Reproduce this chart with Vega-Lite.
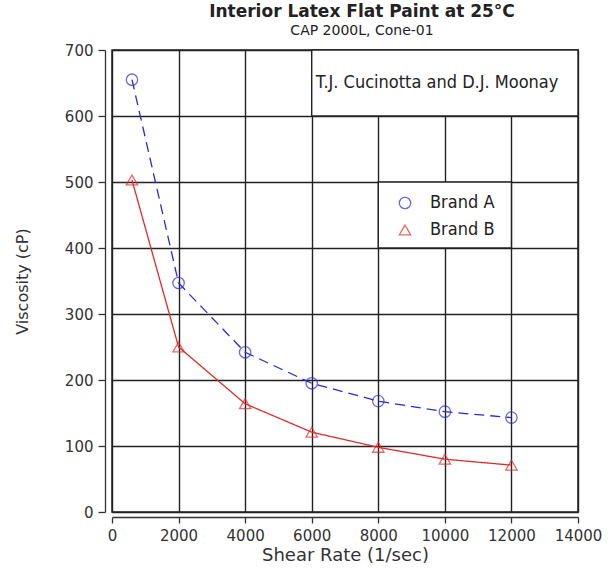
{
  "$schema": "https://vega.github.io/schema/vega-lite/v6.json",
  "autosize": {"type": "none"},
  "width": 466,
  "height": 462,
  "padding": {"left": 112, "top": 50, "right": 37, "bottom": 59},
  "background": "white",
  "title": {
    "text": "Interior Latex Flat Paint at 25°C",
    "subtitle": "CAP 2000L, Cone-01",
    "anchor": "middle",
    "dx": 17,
    "offset": 4,
    "font": "DejaVu Sans",
    "fontSize": 17,
    "fontWeight": "bold",
    "color": "#222",
    "subtitleFont": "DejaVu Sans",
    "subtitleFontSize": 14,
    "subtitleColor": "#222",
    "subtitlePadding": 3
  },
  "config": {
    "view": {"stroke": "#222", "strokeWidth": 1.5},
    "axis": {
      "domainColor": "#333",
      "domainWidth": 1.3,
      "tickColor": "#333",
      "tickWidth": 1.3,
      "gridColor": "#222",
      "gridWidth": 1.4,
      "labelFont": "DejaVu Sans",
      "labelFontSize": 15,
      "labelColor": "#333",
      "titleFont": "DejaVu Sans",
      "titleFontWeight": "normal",
      "titleColor": "#333"
    },
    "legend": {"zindex": 5}
  },
  "datasets": {
    "series": [
      {"brand": "Brand A", "shear": 600, "viscosity": 655},
      {"brand": "Brand A", "shear": 2000, "viscosity": 347},
      {"brand": "Brand A", "shear": 4000, "viscosity": 242},
      {"brand": "Brand A", "shear": 6000, "viscosity": 195},
      {"brand": "Brand A", "shear": 8000, "viscosity": 168},
      {"brand": "Brand A", "shear": 10000, "viscosity": 152},
      {"brand": "Brand A", "shear": 12000, "viscosity": 143},
      {"brand": "Brand B", "shear": 600, "viscosity": 503},
      {"brand": "Brand B", "shear": 2000, "viscosity": 250},
      {"brand": "Brand B", "shear": 4000, "viscosity": 164},
      {"brand": "Brand B", "shear": 6000, "viscosity": 121},
      {"brand": "Brand B", "shear": 8000, "viscosity": 98},
      {"brand": "Brand B", "shear": 10000, "viscosity": 80},
      {"brand": "Brand B", "shear": 12000, "viscosity": 71}
    ],
    "boxes": [
      {"x1": 6000, "x2": 14000, "y1": 600, "y2": 700},
      {"x1": 8000, "x2": 12000, "y1": 400, "y2": 500}
    ],
    "note": [
      {"label": "T.J. Cucinotta and D.J.  Moonay", "x": 9764, "y": 650}
    ]
  },
  "layer": [
    {
      "data": {"name": "boxes"},
      "mark": {"type": "rect", "fill": "white", "stroke": "#222", "strokeWidth": 1.4},
      "encoding": {
        "x": {
          "field": "x1", "type": "quantitative",
          "scale": {"domain": [0, 14000], "nice": false, "zero": false},
          "axis": {
            "values": [0, 1000, 2000, 3000, 4000, 5000, 6000, 7000, 8000, 9000, 10000, 11000, 12000, 13000, 14000],
            "labelExpr": "datum.value % 2000 === 0 ? datum.label : ''",
            "format": "d",
            "tickSize": {"condition": {"test": "datum.value % 2000 === 0", "value": 6}, "value": 4},
            "gridOpacity": {"condition": {"test": "datum.value % 2000 === 0", "value": 1}, "value": 0},
            "grid": true,
            "offset": 5,
            "labelPadding": 5,
            "labelFlush": false,
            "labelOverlap": false,
            "title": "Shear Rate (1/sec)",
            "titleFontSize": 18,
            "titlePadding": 3
          }
        },
        "x2": {"field": "x2"},
        "y": {
          "field": "y1", "type": "quantitative",
          "scale": {"domain": [0, 700], "nice": false, "zero": false},
          "axis": {
            "values": [0, 50, 100, 150, 200, 250, 300, 350, 400, 450, 500, 550, 600, 650, 700],
            "labelExpr": "datum.value % 100 === 0 ? datum.label : ''",
            "tickSize": {"condition": {"test": "datum.value % 100 === 0", "value": 7}, "value": 4},
            "gridOpacity": {"condition": {"test": "datum.value % 100 === 0", "value": 1}, "value": 0},
            "grid": true,
            "offset": 7,
            "labelPadding": 5,
            "labelFlush": false,
            "labelOverlap": false,
            "title": "Viscosity (cP)",
            "titleFontSize": 16,
            "titlePadding": 34
          }
        },
        "y2": {"field": "y2"}
      }
    },
    {
      "data": {"name": "series"},
      "mark": {"type": "line", "strokeWidth": 1.3},
      "encoding": {
        "x": {"field": "shear", "type": "quantitative"},
        "y": {"field": "viscosity", "type": "quantitative"},
        "detail": {"field": "brand", "type": "nominal"},
        "stroke": {
          "field": "brand", "type": "nominal",
          "scale": {"range": ["#2a2ad6", "#e02a2a"]},
          "legend": null
        },
        "strokeDash": {
          "field": "brand", "type": "nominal",
          "scale": {"range": [[10, 6], [1, 0]]},
          "legend": null
        }
      }
    },
    {
      "data": {"name": "series"},
      "mark": {"type": "point", "filled": false, "strokeWidth": 1.3, "size": 130},
      "encoding": {
        "x": {"field": "shear", "type": "quantitative"},
        "y": {"field": "viscosity", "type": "quantitative"},
        "color": {
          "field": "brand", "type": "nominal",
          "scale": {"domain": ["Brand A", "Brand B"], "range": ["#2a2ad6", "#e02a2a"]},
          "legend": {
            "title": null,
            "orient": "none",
            "legendX": 284,
            "legendY": 144,
            "padding": 0,
            "symbolSize": 130,
            "symbolStrokeWidth": 1.3,
            "labelFont": "Liberation Sans Narrow, DejaVu Sans Condensed, sans-serif",
            "labelFontSize": 18,
            "labelColor": "#222",
            "labelOffset": 16,
            "rowPadding": 9
          }
        },
        "shape": {
          "field": "brand", "type": "nominal",
          "scale": {"domain": ["Brand A", "Brand B"], "range": ["circle", "triangle-up"]},
          "legend": {
            "title": null,
            "orient": "none",
            "legendX": 284,
            "legendY": 144,
            "padding": 0,
            "symbolSize": 130,
            "symbolStrokeWidth": 1.3,
            "labelFont": "Liberation Sans Narrow, DejaVu Sans Condensed, sans-serif",
            "labelFontSize": 18,
            "labelColor": "#222",
            "labelOffset": 16,
            "rowPadding": 9
          }
        }
      }
    },
    {
      "data": {"name": "note"},
      "mark": {
        "type": "text",
        "font": "Liberation Sans Narrow, DejaVu Sans Condensed, sans-serif",
        "fontSize": 18,
        "color": "#222",
        "align": "center",
        "baseline": "middle"
      },
      "encoding": {
        "x": {"field": "x", "type": "quantitative"},
        "y": {"field": "y", "type": "quantitative"},
        "text": {"field": "label"}
      }
    }
  ]
}
